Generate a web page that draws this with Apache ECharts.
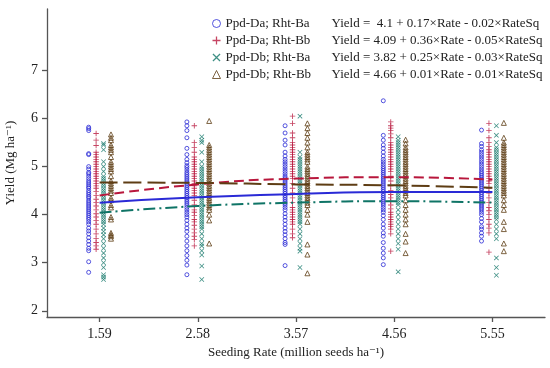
<!DOCTYPE html>
<html>
<head>
<meta charset="utf-8">
<script src="https://cdn.jsdelivr.net/npm/echarts@6/dist/echarts.min.js"></script>
<style>html,body{margin:0;padding:0;background:#fff}#c{width:550px;height:368px}</style>
</head>
<body>
<div id="c"></div>
<script>
const rates = [1.59, 2.58, 3.57, 4.56, 5.55];
const yTicks = [2, 3, 4, 5, 6, 7];
const groupNames = ['Ppd-Da; Rht-Ba', 'Ppd-Da; Rht-Bb', 'Ppd-Db; Rht-Ba', 'Ppd-Db; Rht-Bb'];
const equations = [
  'Yield =  4.1 + 0.17×Rate - 0.02×RateSq',
  'Yield = 4.09 + 0.36×Rate - 0.05×RateSq',
  'Yield = 3.82 + 0.25×Rate - 0.03×RateSq',
  'Yield = 4.66 + 0.01×Rate - 0.01×RateSq'
];

const yieldDaBa = [
  [5.82,5.79,5.75,5.27,5.25,5.0,4.95,4.88,4.85,4.8,4.75,4.7,4.66,4.62,4.58,4.55,4.5,4.46,4.42,4.38,4.35,4.3,4.26,4.22,4.18,4.14,4.1,4.06,4.02,3.98,3.94,3.9,3.85,3.8,3.72,3.66,3.6,3.52,3.45,3.38,3.3,3.25,3.02,2.8],
  [5.93,5.85,5.75,5.6,5.38,5.25,5.15,5.08,5.02,4.98,4.93,4.88,4.84,4.8,4.76,4.72,4.68,4.64,4.6,4.56,4.52,4.48,4.44,4.4,4.36,4.32,4.28,4.24,4.2,4.15,4.1,4.05,4.0,3.95,3.88,3.8,3.72,3.65,3.55,3.45,3.35,3.25,3.15,3.05,2.95,2.75],
  [5.85,5.7,5.55,5.45,5.3,5.22,5.15,5.1,5.05,5.0,4.95,4.9,4.85,4.8,4.76,4.72,4.68,4.64,4.6,4.56,4.52,4.48,4.44,4.4,4.36,4.32,4.28,4.24,4.2,4.15,4.1,4.02,3.95,3.88,3.8,3.72,3.65,3.58,3.5,3.42,3.38,2.94],
  [6.37,5.65,5.55,5.45,5.38,5.3,5.22,5.15,5.1,5.05,5.0,4.96,4.92,4.88,4.84,4.8,4.76,4.72,4.68,4.64,4.6,4.56,4.52,4.48,4.44,4.4,4.36,4.32,4.28,4.24,4.2,4.15,4.1,4.05,3.98,3.9,3.8,3.72,3.62,3.55,3.42,3.3,3.2,3.1,2.96],
  [5.76,5.48,5.42,5.35,5.3,5.25,5.2,5.15,5.1,5.05,5.0,4.95,4.9,4.86,4.82,4.78,4.74,4.7,4.66,4.62,4.58,4.54,4.5,4.46,4.42,4.38,4.34,4.3,4.26,4.22,4.18,4.14,4.1,4.05,4.0,3.92,3.85,3.75,3.7,3.62,3.55,3.45]
];
const yieldDaBb = [
  [5.69,5.55,5.44,5.3,5.25,5.2,5.15,5.1,5.05,5.0,4.95,4.9,4.85,4.8,4.75,4.7,4.65,4.6,4.55,4.48,4.4,4.32,4.25,4.18,4.1,4.02,3.95,3.88,3.8,3.7,3.6,3.5,3.42,3.35,3.28],
  [5.85,5.5,5.4,5.3,5.2,5.15,5.1,5.05,5.0,4.95,4.9,4.85,4.8,4.75,4.7,4.65,4.6,4.55,4.5,4.45,4.4,4.3,4.2,4.1,4.05,3.98,3.9,3.85,3.78,3.7,3.62,3.55,3.48,3.35],
  [6.05,5.9,5.7,5.6,5.5,5.45,5.4,5.35,5.3,5.25,5.2,5.15,5.1,5.05,5.0,4.95,4.9,4.85,4.8,4.75,4.65,4.55,4.45,4.35,4.25,4.15,4.1,4.05,4.0,3.95,3.9,3.85,3.8,3.7,3.6,3.52],
  [5.93,5.85,5.8,5.75,5.68,5.6,5.5,5.45,5.4,5.35,5.3,5.25,5.2,5.15,5.1,5.05,5.0,4.95,4.9,4.8,4.7,4.6,4.5,4.42,4.35,4.28,4.2,4.12,4.05,4.0,3.95,3.9,3.85,3.8,3.75,3.7,3.6,3.24],
  [5.9,5.75,5.6,5.5,5.42,5.35,5.3,5.25,5.2,5.15,5.1,5.05,5.0,4.95,4.9,4.85,4.8,4.75,4.7,4.65,4.55,4.45,4.35,4.25,4.15,4.08,4.0,3.9,3.8,3.72,3.62,3.22]
];
const yieldDbBa = [
  [5.48,5.45,5.35,5.1,5.0,4.9,4.8,4.75,4.7,4.65,4.6,4.55,4.5,4.45,4.4,4.35,4.3,4.25,4.2,4.15,4.1,4.05,4.0,3.95,3.9,3.85,3.8,3.72,3.65,3.58,3.5,3.4,3.3,3.2,3.1,3.0,2.9,2.75,2.7,2.65],
  [5.62,5.55,5.5,5.3,5.1,5.0,4.95,4.9,4.85,4.8,4.75,4.7,4.65,4.6,4.55,4.5,4.45,4.4,4.35,4.3,4.25,4.2,4.15,4.1,4.05,4.0,3.95,3.9,3.85,3.8,3.75,3.7,3.6,3.5,3.4,3.35,3.25,3.16,2.93,2.65],
  [6.05,5.3,5.2,5.15,5.1,5.05,5.0,4.95,4.9,4.85,4.8,4.75,4.7,4.65,4.6,4.55,4.5,4.45,4.4,4.35,4.3,4.25,4.2,4.15,4.1,4.05,4.0,3.95,3.9,3.85,3.8,3.7,3.6,3.5,3.4,3.3,3.24,2.9],
  [5.62,5.55,5.5,5.45,5.4,5.35,5.3,5.25,5.2,5.15,5.1,5.05,5.0,4.95,4.9,4.85,4.8,4.75,4.7,4.65,4.6,4.55,4.5,4.45,4.4,4.35,4.3,4.25,4.2,4.1,4.0,3.9,3.8,3.7,3.6,3.5,3.4,3.28,2.81],
  [5.85,5.65,5.5,5.4,5.35,5.3,5.25,5.2,5.15,5.1,5.05,5.0,4.95,4.9,4.85,4.8,4.75,4.7,4.65,4.6,4.55,4.5,4.45,4.4,4.35,4.3,4.25,4.2,4.15,4.1,4.05,4.0,3.95,3.9,3.8,3.7,3.6,3.5,3.1,2.9,2.74]
];
const yieldDbBb = [
  [5.67,5.6,5.55,5.45,5.4,5.35,5.3,5.2,5.1,5.05,5.0,4.95,4.9,4.8,4.7,4.65,4.6,4.55,4.5,4.45,4.35,4.3,4.2,4.15,3.95,3.9,3.62,3.58,3.55,3.5],
  [5.95,5.45,5.4,5.35,5.3,5.25,5.2,5.15,5.1,5.05,5.0,4.95,4.9,4.85,4.8,4.75,4.7,4.65,4.6,4.55,4.5,4.45,4.4,4.35,4.3,4.25,4.2,4.15,4.1,4.0,3.88,3.4],
  [5.9,5.8,5.7,5.6,5.5,5.4,5.3,5.25,5.2,5.15,5.1,5.0,4.95,4.9,4.85,4.8,4.75,4.7,4.65,4.6,4.55,4.5,4.45,4.4,4.35,4.3,4.25,4.2,4.1,4.0,3.85,3.38,3.17,2.78],
  [5.56,5.48,5.4,5.35,5.3,5.25,5.2,5.15,5.1,5.05,5.0,4.95,4.9,4.85,4.8,4.75,4.7,4.65,4.6,4.55,4.5,4.45,4.4,4.3,4.2,4.1,4.0,3.9,3.8,3.6,3.44,3.2],
  [5.91,5.6,5.5,5.45,5.4,5.35,5.3,5.25,5.2,5.15,5.1,5.05,5.0,4.95,4.9,4.85,4.8,4.75,4.7,4.65,4.6,4.55,4.5,4.45,4.4,4.3,4.2,4.1,3.85,3.7,3.4,3.24]
];

const fitDaBa = [4.25, 4.36, 4.43, 4.47, 4.47];
const fitDaBb = [4.40, 4.63, 4.75, 4.78, 4.73];
const fitDbBa = [4.04, 4.18, 4.25, 4.28, 4.25];
const fitDbBb = [4.67, 4.66, 4.63, 4.61, 4.56];

const groups = [yieldDaBa, yieldDaBb, yieldDbBa, yieldDbBb];
const fits = [fitDaBa, fitDaBb, fitDbBa, fitDbBb];

const colors = ['#2a2ad6', '#b8173c', '#0f7466', '#5e3d14'];
const dodge = [-0.11, -0.035, 0.04, 0.115];
const plusPath = 'path://M4.2,0H5.8V4.2H10V5.8H5.8V10H4.2V5.8H0V4.2H4.2Z';
const crossPath = 'path://M1.1,0L5,3.9L8.9,0L10,1.1L6.1,5L10,8.9L8.9,10L5,6.1L1.1,10L0,8.9L3.9,5L0,1.1Z';
const symbolDefs = [
  {symbol: 'circle', size: 4, hollow: true},
  {symbol: plusPath, size: 5.5, hollow: false},
  {symbol: crossPath, size: 5, hollow: false},
  {symbol: 'triangle', size: 5, hollow: true}
];
const legendIcons = ['circle', plusPath, crossPath, 'triangle'];
const lineTypes = ['solid', [10, 5], [12, 4, 2, 4], [18, 6]];

const serif = '"Liberation Serif", "DejaVu Serif", serif';
const series = [];
groups.forEach((g, k) => {
  const sd = symbolDefs[k];
  series.push({
    name: groupNames[k],
    type: 'scatter',
    symbol: sd.symbol,
    symbolSize: sd.size,
    itemStyle: sd.hollow
      ? {color: 'rgba(255,255,255,0)', borderColor: colors[k], borderWidth: 1}
      : {color: colors[k]},
    data: rates.flatMap((r, i) => g[i].map(v => [r + dodge[k], v])),
    z: 2
  });
});
fits.forEach((f, k) => {
  series.push({
    name: 'fit' + k,
    type: 'line',
    smooth: true,
    showSymbol: false,
    lineStyle: {color: colors[k], width: 2, type: lineTypes[k]},
    data: rates.map((r, i) => [r, f[i]]),
    z: 5
  });
});

const chart = echarts.init(document.getElementById('c'), null, {renderer: 'canvas'});
chart.setOption({
  animation: false,
  backgroundColor: '#fff',
  grid: {left: 47, right: 5, top: 9, bottom: 51, containLabel: false, outerBoundsMode: 'none'},
  legend: {
    data: groupNames.map((n, k) => ({
      name: n, icon: legendIcons[k],
      itemStyle: k === 0 || k === 3
        ? {color: 'rgba(255,255,255,0)', borderColor: colors[k], borderWidth: 1}
        : {color: colors[k], borderWidth: 0}
    })),
    orient: 'vertical',
    left: 207,
    top: 10,
    itemWidth: 8,
    itemHeight: 8,
    itemGap: 0,
    formatter: name => '{a|' + name + '}{b|' + equations[groupNames.indexOf(name)] + '}',
    textStyle: {
      fontFamily: serif, fontSize: 13, color: '#222', lineHeight: 17,
      rich: {
        a: {fontFamily: serif, fontSize: 13, width: 106, color: '#222'},
        b: {fontFamily: serif, fontSize: 13, color: '#222'}
      }
    }
  },
  xAxis: {
    type: 'value',
    min: 1.06,
    max: 6.08,
    name: 'Seeding Rate (million seeds ha⁻¹)',
    nameLocation: 'middle',
    nameGap: 28,
    nameTextStyle: {fontFamily: serif, fontSize: 13, color: '#222'},
    splitLine: {show: false},
    axisLine: {lineStyle: {color: '#555', width: 1.3}},
    axisTick: {customValues: rates, length: 5, lineStyle: {color: '#555', width: 1.3}},
    axisLabel: {customValues: rates, margin: 10, fontFamily: serif, fontSize: 14, color: '#222',
      formatter: v => v.toFixed(2)}
  },
  yAxis: {
    type: 'value',
    min: 1.87,
    max: 8.28,
    name: 'Yield (Mg ha⁻¹)',
    nameLocation: 'middle',
    nameGap: 30,
    nameTextStyle: {fontFamily: serif, fontSize: 13, color: '#222'},
    splitLine: {show: false},
    axisLine: {show: true, lineStyle: {color: '#555', width: 1.3}},
    axisTick: {show: true, customValues: yTicks, length: 5, lineStyle: {color: '#555', width: 1.3}},
    axisLabel: {customValues: yTicks, margin: 9, fontFamily: serif, fontSize: 14, color: '#222'}
  },
  series: series
});
</script>
</body>
</html>
